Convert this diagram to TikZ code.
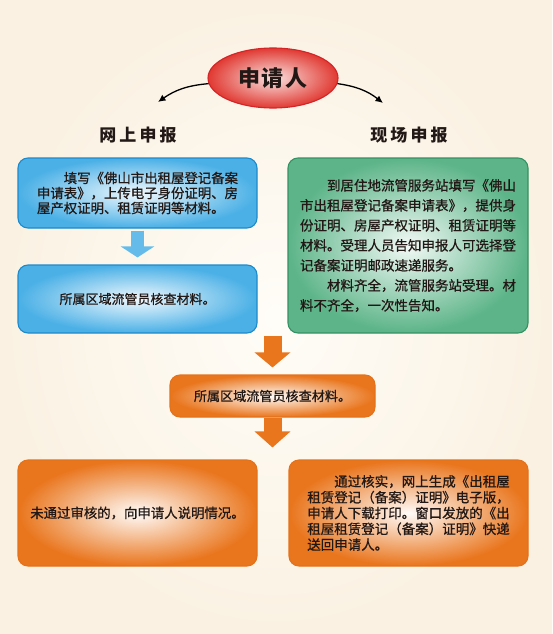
\documentclass[tikz,border=0pt]{standalone}
\usepackage{fontspec}
\setmainfont{Noto Sans CJK SC}
\usetikzlibrary{shapes.geometric,arrows.meta}
\definecolor{bgcol}{RGB}{250,241,226}
\definecolor{bglight}{RGB}{255,253,248}
\definecolor{txtcol}{RGB}{34,24,21}
\definecolor{redline}{RGB}{212,36,40}
\definecolor{redfill}{RGB}{224,58,50}
\definecolor{blueline}{RGB}{29,138,203}
\definecolor{bluefill}{RGB}{74,176,230}
\definecolor{greenline}{RGB}{52,146,100}
\definecolor{greenfill}{RGB}{92,180,136}
\definecolor{orangeline}{RGB}{228,114,28}
\definecolor{orangefill}{RGB}{233,117,28}
\tikzset{>={Latex[length=7.5pt,width=7pt]}}
\tikzstyle{box}=[draw,line width=1.1,rounded corners=10,inner sep=0,
                 text=txtcol,align=left]
\tikzstyle{bluebox}=[box,draw=blueline,inner color=bluefill!8!white,
                     outer color=bluefill]
\tikzstyle{greenbox}=[box,draw=greenline,inner color=greenfill!8!white,
                      outer color=greenfill]
\tikzstyle{orangebox}=[box,draw=orangeline,inner color=orangefill!3!white,
                       outer color=orangefill]
\tikzstyle{title}=[text=txtcol,font=\bfseries\fontsize{17}{17}\selectfont
                   \addfontfeature{LetterSpace=18}]
\tikzstyle{blockarrow}=[line width=13pt,-{Triangle[width=33pt,length=11pt]}]
\newcommand{\bodyfont}[2]{\fontsize{#1}{#2}\selectfont
  \addfontfeature{FakeBold=0.8}}

\begin{document}
\begin{tikzpicture}[x=1pt,y=-1pt]
  \def\ind{\hspace*{2em}} % first line indent

  % BACKGROUND
  \useasboundingbox (0,0) rectangle (552,634);
  \shade[inner color=bglight,outer color=bgcol] (0,0) rectangle (552,634);

  % APPLICANT
  \node[ellipse,draw=redline,line width=1.1,minimum width=130,minimum height=60,
        inner color=redfill!15!white,outer color=redfill,text=txtcol,
        font=\bfseries\fontsize{22}{22}\selectfont\addfontfeature{LetterSpace=5}]
    (appl) at (273,78) {申请人};
  \node[title] (online) at (138,135) {网上申报};
  \node[title] (onsite) at (409,135) {现场申报};
  \coordinate (onlineend) at (158,102);
  \coordinate (onsiteend) at (383,103);
  \draw[->,line width=1.3] (appl.185) to[bend right=15] (onlineend);
  \draw[->,line width=1.3] (appl.355) to[bend left=15] (onsiteend);

  % ONLINE COLUMN
  \node[bluebox,minimum width=239,minimum height=70,
        font=\bodyfont{13.4}{15}] (fillform) at (137.5,193)
    {\ind 填写《佛山市出租屋登记备案\\申请表》，上传电子身份证明、房\\屋产权证明、租赁证明等材料。};
  \node[bluebox,minimum width=239,minimum height=68,
        font=\bodyfont{13}{15}] (check) at (137.5,299)
    {所属区域流管员核查材料。};
  \draw[blockarrow,bluefill!85!white,shorten <=2,shorten >=7]
    (fillform.south) -- (check.north);

  % ON-SITE COLUMN
  \node[greenbox,minimum width=240,minimum height=175,
        font=\bodyfont{13.5}{20}] (station) at (408,245.5)
    {\ind 到居住地流管服务站填写《佛山\\市出租屋登记备案申请表》，提供身\\份证明、房屋产权证明、租赁证明等\\材料。受理人员告知申报人可选择登\\记备案证明邮政速递服务。\\\ind 材料齐全，流管服务站受理。材\\料不齐全，一次性告知。};

  % VERIFICATION
  \node[orangebox,minimum width=205,minimum height=42,
        font=\bodyfont{13.1}{15}] (verify) at (272.5,396)
    {所属区域流管员核查材料。};
  \draw[line width=18pt,-{Triangle[width=35pt,length=15pt]},orangefill,
        shorten <=2,shorten >=7] (check.south -| verify.north) -- (verify.north);

  % RESULTS
  \node[orangebox,minimum width=239,minimum height=106,
        font=\bodyfont{13.4}{15}] (reject) at (137.5,513)
    {未通过审核的，向申请人说明情况。};
  \node[orangebox,minimum width=239,minimum height=106,
        font=\bodyfont{13.5}{15.8}] (issue) at (408.5,513)
    {\ind 通过核实，网上生成《出租屋\\租赁登记（备案）证明》电子版，\\申请人下载打印。窗口发放的《出\\租屋租赁登记（备案）证明》快递\\送回申请人。};
  \draw[line width=18pt,-{Triangle[width=35pt,length=16pt]},orangefill,
        shorten >=12] (verify.south) -- (verify.south |- reject.north);

\end{tikzpicture}
\end{document}
